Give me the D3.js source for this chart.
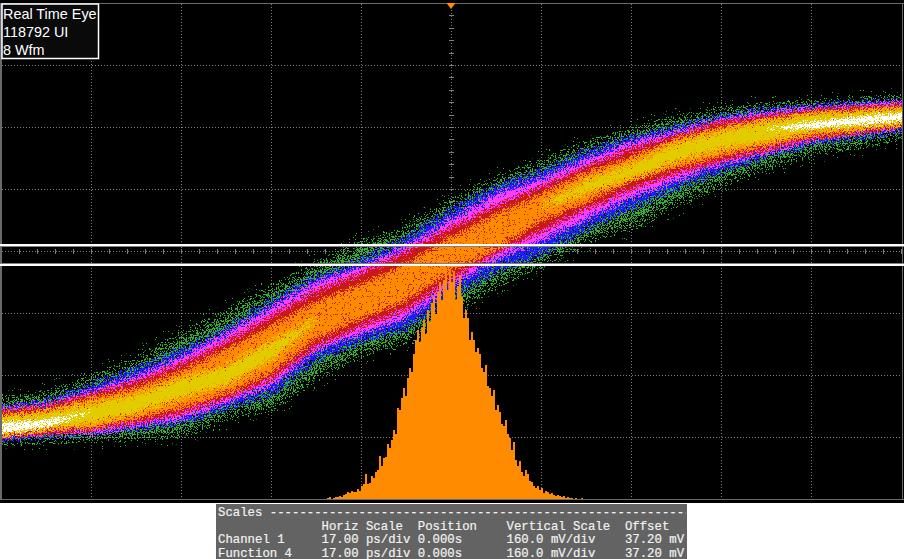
<!DOCTYPE html>
<html><head><meta charset="utf-8">
<script src="https://cdn.jsdelivr.net/npm/d3@7"></script>
<style>html,body{margin:0;padding:0;background:#fff}svg{display:block}</style>
</head><body><div id="c"></div>
<script>
const legendLines = ["Real Time Eye","118792 UI","8 Wfm"];
const scaleLines = [
 "Scales ---------------------------------------------------------",
 "              Horiz Scale  Position    Vertical Scale  Offset",
 "Channel 1     17.00 ps/div 0.000s      160.0 mV/div    37.20 mV",
 "Function 4    17.00 ps/div 0.000s      160.0 mV/div    37.20 mV"];
const timeTicks = [-85,-68,-51,-34,-17,0,17,34,51,68,85];
const voltTicks = [677.2,517.2,357.2,197.2,37.2,-122.8,-282.8,-442.8,-602.8];
const stations = [-85,-76.5,-68,-59.5,-51,-42.5,-34,-25.5,-17,-8.5,0,8.5,17,25.5,34,42.5,51,59.5,68,76.5,85];
const greenTop =  [-354,-338,-302,-256,-191,-134,-70,-11,49,85,152,214,255,304,338,371,394,407,415,420,428];
const blueTop =   [-367,-354,-312,-269,-222,-165,-96,-31,10,67,139,201,240,291,330,356,384,400,410,418,423];
const magentaTop =[-372,-359,-325,-287,-238,-178,-109,-44,-5,49,118,183,222,273,317,345,376,394,405,413,420];
const redTop =    [-377,-364,-333,-302,-256,-199,-134,-67,-23,33,95,152,201,253,299,333,369,384,400,407,413];
const orangeTop = [-385,-374,-343,-315,-274,-217,-158,-93,-49,2,72,131,183,240,278,325,356,376,394,400,407];
const yellowTop = [-395,-382,-359,-336,-294,-263,-199,-140,null,null,null,null,152,216,260,312,345,369,387,394,400];
const whiteTop =  [-405,-398,-378,null,null,null,null,null,null,null,null,null,null,null,null,null,null,351,371,384,394];
const whiteBottom=[-431,-416,-378,null,null,null,null,null,null,null,null,null,null,null,null,null,null,351,356,363,374];
const yellowBottom=[-434,-416,-403,-377,-338,-305,-238,-140,null,null,null,null,152,191,229,273,304,325,351,358,369];
const orangeBottom=[-436,-423,-416,-392,-364,-328,-274,-186,-134,-88,-11,46,118,165,222,255,286,312,338,351,366];
const redBottom = [-439,-429,-421,-403,-377,-338,-289,-204,-153,-109,-29,36,93,149,201,242,273,304,330,345,363];
const magentaBottom=[-441,-431,-429,-411,-392,-351,-307,-217,-173,-132,-49,20,67,124,178,222,265,294,325,343,356];
const blueBottom= [-447,-436,-431,-418,-403,-364,-328,-238,-191,-158,-75,-11,33,100,152,204,247,286,317,333,351];
const greenBottom=[-449,-444,-441,-436,-429,-380,-359,-274,-217,-183,-114,-36,15,75,111,170,222,265,299,317,343];
const histStart = -23.4, histStep = 0.3778;
const histHits = [2,3,1,2,3,3,4,3,5,6,8,7,9,8,8,11,9,14,16,26,16,17,24,22,28,30,44,34,42,43,56,52,60,70,66,
 92,90,102,112,104,122,132,128,146,160,170,158,172,180,166,190,178,197,203,186,208,218,200,220,232,210,230,218,229,200,214,225,203,182,190,
 182,160,168,160,148,152,146,132,128,135,114,112,104,110,90,95,88,76,74,80,66,62,50,58,40,34,39,28,24,30,26,19,18,14,12,14,10,12,7,9,8,6,7,5,4,5,4,3,4,2,3,2,2,1,2,1,1,2,1,1,1,1,0,1,0,1,0,1,0,0];

const W=904,H=559;
const x=d3.scaleLinear().domain([-85,85]).range([1,901]);
const y=d3.scaleLinear().domain([37.2-640,37.2+640]).range([499.5,3.5]);
const histY=d3.scaleLinear().domain([0,232]).range([499.5,267.5]);
const svg=d3.select("#c").append("svg").attr("width",W).attr("height",H);
svg.append("rect").attr("width",W).attr("height",503).attr("fill","#000");
const defs=svg.append("defs");
defs.append("clipPath").attr("id","plot").append("rect").attr("x",2).attr("y",3).attr("width",900).attr("height",497);

function stipple(id,o){
  const f=defs.append("filter").attr("id",id).attr("filterUnits","userSpaceOnUse")
    .attr("x",0).attr("y",0).attr("width",W).attr("height",H).attr("color-interpolation-filters","sRGB");
  const mask=(name,thr,seed)=>{
    f.append("feTurbulence").attr("type","fractalNoise").attr("baseFrequency",0.83).attr("numOctaves",1).attr("seed",seed).attr("result",name+"n");
    const k=60;
    f.append("feColorMatrix").attr("in",name+"n").attr("type","matrix")
      .attr("values",`0 0 0 0 1 0 0 0 0 1 0 0 0 0 1 ${k} 0 0 0 ${-k*thr}`).attr("result",name);
  };
  f.append("feTurbulence").attr("type","fractalNoise").attr("baseFrequency",0.93).attr("numOctaves",2).attr("seed",o.seed).attr("result","d");
  f.append("feDisplacementMap").attr("in","SourceGraphic").attr("in2","d").attr("scale",o.scale).attr("xChannelSelector","R").attr("yChannelSelector","G").attr("result","moved");
  const outs=[];
  (o.halos||[]).forEach((h,i)=>{
    f.append("feMorphology").attr("in","SourceGraphic").attr("operator","dilate").attr("radius",h[0]).attr("result","w"+i);
    mask("m"+i,h[1],o.seed+5+i*7);
    f.append("feComposite").attr("in","w"+i).attr("in2","m"+i).attr("operator","in").attr("result","h"+i);
    outs.push("h"+i);
  });
  if(o.core!=null){
    mask("mc",o.core,o.seed+41);
    f.append("feComposite").attr("in","moved").attr("in2","mc").attr("operator","in").attr("result","coreOut");
    outs.push("coreOut");
  } else outs.push("moved");
  const mg=f.append("feMerge");
  outs.forEach(n=>mg.append("feMergeNode").attr("in",n));
}
// grid
const grid=svg.append("g").attr("stroke","#808080").attr("stroke-width",1).attr("stroke-dasharray","1,2").attr("shape-rendering","crispEdges");
timeTicks.slice(1,-1).forEach(t=>grid.append("line").attr("x1",x(t)).attr("x2",x(t)).attr("y1",4).attr("y2",499));
voltTicks.forEach(v=>grid.append("line").attr("x1",2).attr("x2",902).attr("y1",Math.floor(y(v))).attr("y2",Math.floor(y(v))));
const minor=svg.append("g").attr("stroke","#808080").attr("shape-rendering","crispEdges");
d3.range(-85,85.01,3.4).forEach(t=>minor.append("line").attr("x1",x(t)).attr("x2",x(t)).attr("y1",249).attr("y2",254));
d3.range(-640,640.01,32).forEach(v=>minor.append("line").attr("x1",449).attr("x2",454).attr("y1",y(37.2+v)).attr("y2",y(37.2+v)));

// density bands
const layers=[
 {t:greenTop,b:greenBottom,c:"#2fb52f",scale:26,seed:3,core:0.50,halos:[[12,0.70],[6,0.60]]},
 {t:blueTop,b:blueBottom,c:"#1c1cff",scale:24,seed:11,core:0.40,halos:[[4,0.58]]},
 {t:magentaTop,b:magentaBottom,c:"#ff3cff",scale:22,seed:7,core:0.34,halos:[[3,0.60]]},
 {t:redTop,b:redBottom,c:"#c81818",scale:18,seed:19,core:0.24,halos:[[3,0.54]]},
 {t:orangeTop,b:orangeBottom,c:"#ff8c00",scale:20,seed:23,core:0.30,halos:[[2,0.57]]},
 {t:orangeTop,b:orangeBottom,c:"#c81818",scale:18,seed:37,core:0.655,halos:[]},
 {t:yellowTop,b:yellowBottom,c:"#e2cc00",scale:18,seed:29,core:0.26,halos:[[4,0.56]]},
 {t:whiteTop,b:whiteBottom,c:"#ffffff",scale:12,seed:31,core:0.36,halos:[[3,0.66]]}];
const bands=svg.append("g").attr("clip-path","url(#plot)");
layers.forEach((l,i)=>{
  stipple("n"+i,l);
  const rows=stations.map((s,k)=>({s,t:l.t[k],b:l.b[k]}));
  const extended=[{...rows[0],s:-92},...rows,{...rows[rows.length-1],s:92}];
  const area=d3.area().defined(d=>d.t!==null).x(d=>x(d.s)).y0(d=>y(d.t)).y1(d=>y(d.b)).curve(d3.curveLinear);
  bands.append("g").attr("filter",`url(#n${i})`).append("path").attr("d",area(extended)).attr("fill",l.c).attr("shape-rendering","crispEdges");
});
// histogram
const hist=svg.append("g").attr("clip-path","url(#plot)").attr("fill","#ff8c00").attr("shape-rendering","crispEdges");
hist.selectAll("rect").data(histHits).join("rect")
 .attr("x",(d,i)=>x(histStart+i*histStep)).attr("width",x(histStep)-x(0))
 .attr("y",d=>histY(d)).attr("height",d=>histY(0)-histY(d));

// frame
const fr=svg.append("g").attr("shape-rendering","crispEdges");
fr.append("rect").attr("x",0).attr("y",3).attr("width",2).attr("height",497).attr("fill","#6a6a6a");
fr.append("rect").attr("x",902).attr("y",3).attr("width",1).attr("height",497).attr("fill","#6a6a6a");
fr.append("rect").attr("x",0).attr("y",3).attr("width",W).attr("height",1).attr("fill","#6a6a6a");
fr.append("rect").attr("x",0).attr("y",499).attr("width",W).attr("height",1).attr("fill","#6a6a6a");
fr.append("rect").attr("x",0).attr("y",244).attr("width",W).attr("height",2).attr("fill","#fff");
fr.append("rect").attr("x",0).attr("y",246).attr("width",W).attr("height",1).attr("fill","#808080");
fr.append("rect").attr("x",0).attr("y",263).attr("width",W).attr("height",1).attr("fill","#808080");
fr.append("rect").attr("x",0).attr("y",264).attr("width",W).attr("height",2).attr("fill","#fff");
svg.append("path").attr("d",d3.line()([[x(0)-4.5,3],[x(0)+4.5,3],[x(0),9]])).attr("fill","#ff8c00");

// legend
svg.append("rect").attr("x",2).attr("y",4).attr("width",96.5).attr("height",54.5).attr("fill","#0a0a0a").attr("stroke","#fff").attr("stroke-width",1.5);
legendLines.forEach((t,i)=>svg.append("text").attr("x",3).attr("y",19+i*18).attr("fill","#fff")
  .attr("font-family","'Liberation Sans',sans-serif").attr("font-size",14.4).text(t));

// scale panel
svg.append("rect").attr("x",216).attr("y",504).attr("width",471).attr("height",55).attr("fill","#636363");
defs.append("clipPath").attr("id","panel").append("rect").attr("x",216).attr("y",504).attr("width",470).attr("height",55);
const pg=svg.append("g").attr("clip-path","url(#panel)");
scaleLines.forEach((t,i)=>pg.append("text").attr("x",218).attr("y",516+i*13.5).attr("fill","#f2f2f2").attr("stroke","#f2f2f2").attr("stroke-width",0.2)
  .attr("font-family","'Liberation Mono',monospace").attr("font-size",12.33).attr("xml:space","preserve").style("white-space","pre").text(t));
</script></body></html>
